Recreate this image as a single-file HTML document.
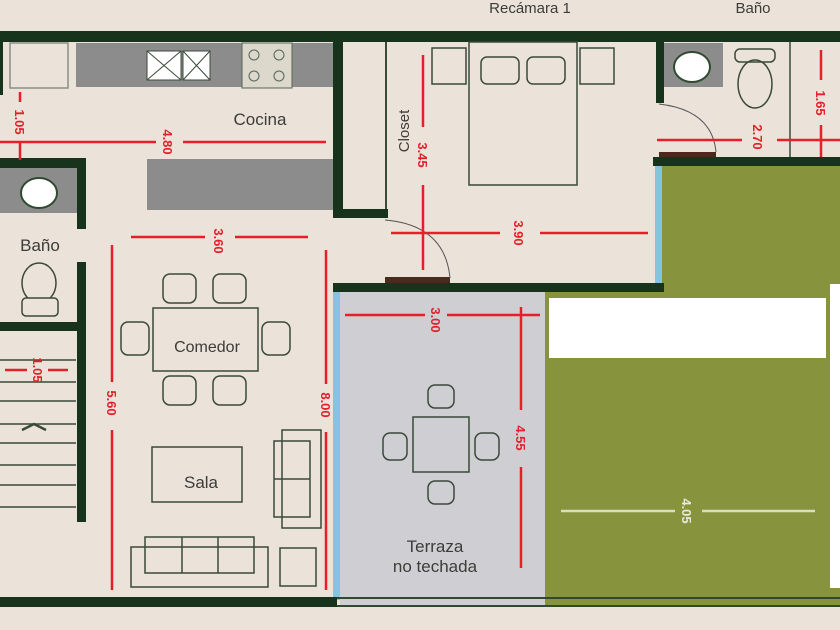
<!DOCTYPE html>
<html><head><meta charset="utf-8"><style>
html,body{margin:0;padding:0;background:#ebe2d9;}
svg{display:block;}
.d{font-family:"Liberation Sans",sans-serif;font-weight:bold;font-size:13px;fill:#e5202b;}
.l{font-family:"Liberation Sans",sans-serif;font-size:17px;fill:#3c3c38;}
</style></head><body>
<svg width="840" height="630" viewBox="0 0 840 630" xmlns="http://www.w3.org/2000/svg">
<rect width="840" height="630" fill="#ebe2d9"/>
<!-- green exterior -->
<rect x="545" y="292" width="295" height="315" fill="#87933d"/>
<rect x="662" y="164" width="178" height="130" fill="#87933d"/>
<rect x="549" y="298" width="277" height="60" fill="#fff"/>
<rect x="830" y="284" width="10" height="304" fill="#fff"/>
<!-- terrace -->
<rect x="340" y="292" width="205" height="315" fill="#cfced3"/>
<rect x="333" y="290" width="7" height="310" fill="#86c3e0"/>
<rect x="655" y="166" width="7" height="118" fill="#86c3e0"/>
<line x1="337" y1="598" x2="840" y2="598" stroke="#2f4a2e" stroke-width="2"/>
<line x1="337" y1="606" x2="840" y2="606" stroke="#2f4a2e" stroke-width="2"/>
<!-- kitchen -->
<rect x="10" y="43" width="58" height="45" fill="none" stroke="#8a8f88" stroke-width="1.5"/>
<rect x="76" y="43" width="257" height="44" fill="#8c8c8c"/>
<rect x="147" y="51" width="34" height="29" fill="#fff" stroke="#3a4a3a"/><rect x="183" y="51" width="27" height="29" fill="#fff" stroke="#3a4a3a"/>
<path d="M147 51L181 80M181 51L147 80M183 51L210 80M210 51L183 80" stroke="#3a4a3a" stroke-width="1"/>
<rect x="242" y="43" width="50" height="45" fill="#ddd8cc" stroke="#55655a"/>
<circle cx="254" cy="55" r="5" fill="none" stroke="#55655a"/><circle cx="279" cy="55" r="5" fill="none" stroke="#55655a"/>
<circle cx="254" cy="76" r="5" fill="none" stroke="#55655a"/><circle cx="279" cy="76" r="5" fill="none" stroke="#55655a"/>
<rect x="147" y="159" width="186" height="51" fill="#8c8c8c"/>
<!-- closet -->
<line x1="386" y1="42" x2="386" y2="213" stroke="#3a4a3a" stroke-width="2"/>
<!-- left bath -->
<rect x="0" y="168" width="78" height="45" fill="#8c8c8c"/>
<ellipse cx="39" cy="193" rx="18" ry="15" fill="#fff" stroke="#2f4a2e" stroke-width="2"/>
<ellipse cx="39" cy="283" rx="17" ry="20" fill="none" stroke="#3a4a3a" stroke-width="1.5"/>
<rect x="22" y="298" width="36" height="18" rx="4" fill="#ebe2d9" stroke="#3a4a3a" stroke-width="1.5"/>
<!-- stairs -->
<g stroke="#3a4a3a" stroke-width="1.5">
<line x1="0" y1="360" x2="76" y2="360"/><line x1="0" y1="382" x2="76" y2="382"/><line x1="0" y1="401" x2="76" y2="401"/>
<line x1="0" y1="424" x2="76" y2="424"/><line x1="0" y1="443" x2="76" y2="443"/><line x1="0" y1="465" x2="76" y2="465"/>
<line x1="0" y1="485" x2="76" y2="485"/><line x1="0" y1="507" x2="76" y2="507"/>
<path d="M22 430L34 424L46 430" fill="none" stroke-width="2.5"/>
</g>
<!-- walls -->
<g fill="#17331c">
<rect x="0" y="31" width="840" height="11"/>
<rect x="0" y="42" width="3" height="53"/>
<rect x="333" y="42" width="10" height="176"/>
<rect x="333" y="209" width="55" height="9"/>
<rect x="0" y="158" width="86" height="10"/>
<rect x="77" y="158" width="9" height="71"/>
<rect x="77" y="262" width="9" height="260"/>
<rect x="0" y="322" width="80" height="9"/>
<rect x="333" y="283" width="331" height="9"/>
<rect x="0" y="597" width="337" height="10"/>
<rect x="653" y="157" width="187" height="9"/>
<rect x="656" y="42" width="8" height="61"/>
</g>
<rect x="385" y="277" width="65" height="6" fill="#4a2a1c"/>
<rect x="659" y="152" width="57" height="5" fill="#4a2a1c"/>
<path d="M385 220 Q445 225 450 278" fill="none" stroke="#555" stroke-width="1"/>
<path d="M659 104 Q712 110 716 152" fill="none" stroke="#555" stroke-width="1"/>
<!-- bedroom -->
<g fill="none" stroke="#3a4a3a" stroke-width="1.5">
<rect x="469" y="42" width="108" height="143"/>
<rect x="481" y="57" width="38" height="27" rx="6"/><rect x="527" y="57" width="38" height="27" rx="6"/>
<rect x="432" y="48" width="34" height="36"/><rect x="580" y="48" width="34" height="36"/>
<line x1="790" y1="42" x2="790" y2="157"/>
</g>
<rect x="664" y="43" width="59" height="44" fill="#8c8c8c"/>
<ellipse cx="692" cy="67" rx="18" ry="15" fill="#fff" stroke="#2f4a2e" stroke-width="2"/>
<g fill="none" stroke="#3a4a3a" stroke-width="1.5">
<rect x="735" y="49" width="40" height="13" rx="5"/>
<ellipse cx="755" cy="84" rx="17" ry="24"/>
</g>
<!-- dining -->
<g fill="none" stroke="#3a4a3a" stroke-width="1.5">
<rect x="153" y="308" width="105" height="63"/>
<rect x="163" y="274" width="33" height="29" rx="7"/><rect x="213" y="274" width="33" height="29" rx="7"/>
<rect x="163" y="376" width="33" height="29" rx="7"/><rect x="213" y="376" width="33" height="29" rx="7"/>
<rect x="121" y="322" width="28" height="33" rx="7"/><rect x="262" y="322" width="28" height="33" rx="7"/>
<rect x="152" y="447" width="90" height="55"/>
<rect x="282" y="430" width="39" height="98"/><rect x="274" y="441" width="36" height="76"/><line x1="274" y1="479" x2="310" y2="479"/>
<rect x="131" y="547" width="137" height="40"/><rect x="145" y="537" width="109" height="36"/>
<line x1="182" y1="537" x2="182" y2="573"/><line x1="218" y1="537" x2="218" y2="573"/>
<rect x="280" y="548" width="36" height="38"/>
<rect x="413" y="417" width="56" height="55"/>
<rect x="428" y="385" width="26" height="23" rx="7"/><rect x="428" y="481" width="26" height="23" rx="7"/>
<rect x="383" y="433" width="24" height="27" rx="7"/><rect x="475" y="433" width="24" height="27" rx="7"/>
</g>
<!-- red dimensions -->
<g stroke="#e5202b" stroke-width="2.5">
<line x1="0" y1="142" x2="156" y2="142"/><line x1="183" y1="142" x2="326" y2="142"/>
<line x1="20" y1="92" x2="20" y2="102"/><line x1="20" y1="142" x2="20" y2="160"/>
<line x1="131" y1="237" x2="205" y2="237"/><line x1="235" y1="237" x2="308" y2="237"/>
<line x1="112" y1="245" x2="112" y2="382"/><line x1="112" y1="430" x2="112" y2="590"/>
<line x1="326" y1="250" x2="326" y2="384"/><line x1="326" y1="432" x2="326" y2="590"/>
<line x1="5" y1="370" x2="27" y2="370"/><line x1="48" y1="370" x2="68" y2="370"/>
<line x1="345" y1="315" x2="425" y2="315"/><line x1="447" y1="315" x2="540" y2="315"/>
<line x1="521" y1="307" x2="521" y2="410"/><line x1="521" y1="467" x2="521" y2="568"/>
<line x1="423" y1="55" x2="423" y2="127"/><line x1="423" y1="185" x2="423" y2="270"/>
<line x1="391" y1="233" x2="500" y2="233"/><line x1="540" y1="233" x2="648" y2="233"/>
<line x1="657" y1="140" x2="742" y2="140"/><line x1="777" y1="140" x2="840" y2="140"/>
<line x1="821" y1="50" x2="821" y2="80"/><line x1="821" y1="125" x2="821" y2="157"/>
</g>
<g stroke="#d8dcc2" stroke-width="2.5"><line x1="561" y1="511" x2="675" y2="511"/><line x1="702" y1="511" x2="815" y2="511"/></g>
<g class="d">
<text transform="translate(163,142) rotate(90)" text-anchor="middle">4.80</text>
<text transform="translate(15,122) rotate(90)" text-anchor="middle">1.05</text>
<text transform="translate(214,241) rotate(90)" text-anchor="middle">3.60</text>
<text transform="translate(107,403) rotate(90)" text-anchor="middle">5.60</text>
<text transform="translate(321,405) rotate(90)" text-anchor="middle">8.00</text>
<text transform="translate(33,370) rotate(90)" text-anchor="middle">1.05</text>
<text transform="translate(431,320) rotate(90)" text-anchor="middle">3.00</text>
<text transform="translate(516,438) rotate(90)" text-anchor="middle">4.55</text>
<text transform="translate(418,155) rotate(90)" text-anchor="middle">3.45</text>
<text transform="translate(514,233) rotate(90)" text-anchor="middle">3.90</text>
<text transform="translate(753,137) rotate(90)" text-anchor="middle">2.70</text>
<text transform="translate(816,103) rotate(90)" text-anchor="middle">1.65</text>
<text transform="translate(682,511) rotate(90)" text-anchor="middle" fill="#e8eadc">4.05</text>
</g>
<g class="l" text-anchor="middle">
<text x="260" y="125">Cocina</text>
<text x="40" y="251">Baño</text>
<text x="207" y="352" font-size="16">Comedor</text>
<text x="201" y="488">Sala</text>
<text x="435" y="552">Terraza</text>
<text x="435" y="572">no techada</text>
<text x="530" y="13" font-size="15">Recámara 1</text>
<text x="753" y="13" font-size="15">Baño</text>
<text transform="translate(409,131) rotate(-90)" font-size="15">Closet</text>
</g>
</svg>
</body></html>
